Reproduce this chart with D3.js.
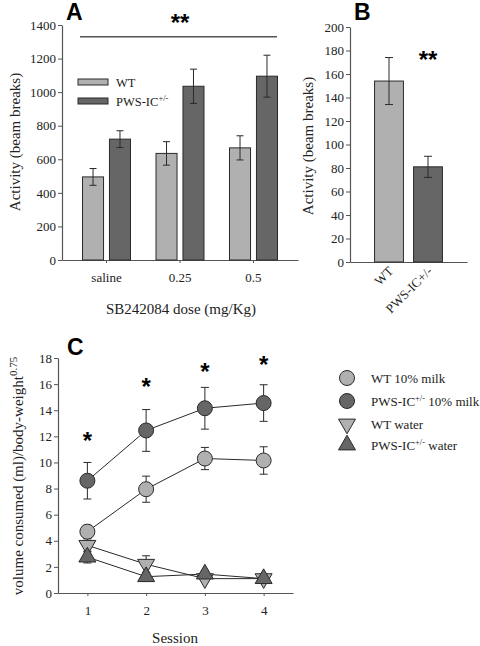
<!DOCTYPE html>
<html><head><meta charset="utf-8">
<script src="https://cdn.jsdelivr.net/npm/d3@7"></script>
<style>
body{margin:0;background:#fff;}
</style></head><body>
<svg id="c" width="480" height="646"></svg>
<script>
// Panel A data
const doseCats = ["saline","0.25","0.5"];
const groupsA = ["WT","PWS-IC"];
const wtA = [495, 635, 668];
const wtAErr = [50, 70, 72];
const pwsA = [720, 1035, 1095];
const pwsAErr = [50, 102, 125];
const ticksA = [0,200,400,600,800,1000,1200,1400];
// Panel B data
const catsB = ["WT","PWS-IC+/-"];
const valsB = [154, 81];
const errB = [20, 9];
const ticksB = [0,20,40,60,80,100,120,140,160,180,200];
// Panel C data
const sessions = [1,2,3,4];
const wtMilk = [4.7, 7.95, 10.3, 10.15];
const wtMilkErr = [0.5, 1.0, 0.85, 1.05];
const pwsMilk = [8.6, 12.45, 14.15, 14.55];
const pwsMilkErr = [1.4, 1.6, 1.6, 1.4];
const wtWater = [3.65, 2.2, 1.1, 1.1];
const wtWaterErr = [0.5, 0.65, 0.2, 0.2];
const pwsWater = [2.75, 1.25, 1.45, 1.1];
const pwsWaterErr = [0.45, 0.35, 0.2, 0.2];
const starsC = [11.8, 15.9, 17.1, 17.6];
const ticksC = [0,2,4,6,8,10,12,14,16,18];

const LIGHT="#b0b0b0", DARK="#666666", STROKE="#2a2a2a", AX="#555";
const SERIF = "Liberation Serif", SANS = "Liberation Sans";
const svg = d3.select("#c");

function styleAxis(g){
  g.attr("font-family",SERIF).attr("font-size",13);
  g.selectAll(".domain").attr("stroke",AX).attr("stroke-width",1.2);
  g.selectAll(".tick line").attr("stroke",AX);
  g.selectAll(".tick text").attr("fill","#222");
}
function label(g, cls){
  return g.append("text").attr("font-family", cls==="bold"?SANS:SERIF)
    .attr("font-weight", cls==="bold"?"bold":null).attr("fill", cls==="bold"?"#000":"#222");
}

// ---------- Panel A ----------
(function(){
  const x0 = d3.scaleBand().domain(doseCats).range([62,298]).paddingInner(0.347).paddingOuter(0.279);
  const x1 = d3.scaleBand().domain(groupsA).range([0,x0.bandwidth()]).paddingInner(0.22);
  const y = d3.scaleLinear().domain([0,1400]).range([260,25]);
  const g = svg.append("g");
  const ya = g.append("g").attr("transform","translate(62,0)").call(d3.axisLeft(y).tickValues(ticksA).tickFormat(d3.format("d")).tickSize(4).tickSizeOuter(0));
  styleAxis(ya); ya.selectAll(".tick text").attr("x",-6);
  const xa = g.append("g").attr("transform","translate(0,260)").call(d3.axisBottom(x0).tickSize(3).tickSizeOuter(0));
  styleAxis(xa); xa.selectAll(".tick text").attr("y",13);
  const series = [{k:"WT",v:wtA,e:wtAErr,c:LIGHT},{k:"PWS-IC",v:pwsA,e:pwsAErr,c:DARK}];
  series.forEach(s=>{
    doseCats.forEach((cat,i)=>{
      const bx = x0(cat)+x1(s.k);
      g.append("rect").attr("x",bx).attr("y",y(s.v[i])).attr("width",x1.bandwidth()).attr("height",y(0)-y(s.v[i]))
        .attr("fill",s.c).attr("stroke",STROKE).attr("stroke-width",1);
      const cx = bx + x1.bandwidth()/2;
      const t=y(s.v[i]+s.e[i]), b=y(s.v[i]-s.e[i]);
      g.append("line").attr("x1",cx).attr("x2",cx).attr("y1",t).attr("y2",b).attr("stroke",STROKE);
      [t,b].forEach(yy=>g.append("line").attr("x1",cx-3.5).attr("x2",cx+3.5).attr("y1",yy).attr("y2",yy).attr("stroke",STROKE));
    });
  });
  g.append("line").attr("x1",80).attr("x2",277).attr("y1",y(1330)).attr("y2",y(1330)).attr("stroke",AX).attr("stroke-width",1.3);
  label(g,"bold").attr("x",180).attr("y",31).attr("text-anchor","middle").attr("font-size",24).text("**");
  label(g,"bold").attr("x",66).attr("y",20).attr("font-size",23).text("A");
  [["WT",LIGHT,""],["PWS-IC",DARK,"+/-"]].forEach((d,i)=>{
    const yy = 79 + i*19;
    g.append("rect").attr("x",78).attr("y",yy).attr("width",30).attr("height",6).attr("fill",d[1]).attr("stroke",STROKE);
    const t = label(g).attr("x",116).attr("y",yy+7.5).attr("font-size",12.5).text(d[0]);
    if(d[2]) t.append("tspan").attr("dy",-5).attr("font-size",8.5).text(d[2]);
  });
  label(g).attr("transform","translate(20,142) rotate(-90)").attr("text-anchor","middle").attr("font-size",15).text("Activity (beam breaks)");
  label(g).attr("x",181).attr("y",314).attr("text-anchor","middle").attr("font-size",15).text("SB242084 dose (mg/Kg)");
})();

// ---------- Panel B ----------
(function(){
  const x = d3.scaleBand().domain(catsB).range([350,467]).paddingInner(0.26).paddingOuter(0.63);
  const y = d3.scaleLinear().domain([0,200]).range([262,27]);
  const g = svg.append("g");
  const ya = g.append("g").attr("transform","translate(350,0)").call(d3.axisLeft(y).tickValues(ticksB).tickSize(4).tickSizeOuter(0));
  styleAxis(ya); ya.selectAll(".tick text").attr("x",-6);
  const xa = g.append("g").attr("transform","translate(0,262)").call(d3.axisBottom(x).tickSize(0).tickSizeOuter(0));
  styleAxis(xa);
  xa.selectAll(".tick text").attr("text-anchor","end").attr("x",0).attr("y",0).attr("dy",0)
    .attr("transform","translate(5,10) rotate(-45)");
  catsB.forEach((c,i)=>{
    g.append("rect").attr("x",x(c)).attr("y",y(valsB[i])).attr("width",x.bandwidth()).attr("height",y(0)-y(valsB[i]))
      .attr("fill",i===0?LIGHT:DARK).attr("stroke",STROKE);
    const cx = x(c)+x.bandwidth()/2, t=y(valsB[i]+errB[i]), b=y(valsB[i]-errB[i]);
    g.append("line").attr("x1",cx).attr("x2",cx).attr("y1",t).attr("y2",b).attr("stroke",STROKE);
    [t,b].forEach(yy=>g.append("line").attr("x1",cx-4).attr("x2",cx+4).attr("y1",yy).attr("y2",yy).attr("stroke",STROKE));
  });
  label(g,"bold").attr("x",428).attr("y",68).attr("text-anchor","middle").attr("font-size",24).text("**");
  label(g,"bold").attr("x",354).attr("y",20).attr("font-size",23).text("B");
  label(g).attr("transform","translate(313,146) rotate(-90)").attr("text-anchor","middle").attr("font-size",15).text("Activity (beam breaks)");
})();

// ---------- Panel C ----------
(function(){
  const x = d3.scaleLinear().domain([0.5,4.5]).range([58,293]);
  const y = d3.scaleLinear().domain([0,18]).range([593,358]);
  const g = svg.append("g");
  const ya = g.append("g").attr("transform","translate(58,0)").call(d3.axisLeft(y).tickValues(ticksC).tickSize(4).tickSizeOuter(0));
  styleAxis(ya); ya.selectAll(".tick text").attr("x",-6);
  const xa = g.append("g").attr("transform","translate(0,593)").call(d3.axisBottom(x).tickValues(sessions).tickFormat(d3.format("d")).tickSize(3).tickSizeOuter(0));
  styleAxis(xa); xa.selectAll(".tick text").attr("y",13);
  const series = [
    {v:wtWater,e:wtWaterErr,c:LIGHT,s:"down"},
    {v:pwsWater,e:pwsWaterErr,c:DARK,s:"up"},
    {v:wtMilk,e:wtMilkErr,c:LIGHT,s:"circle"},
    {v:pwsMilk,e:pwsMilkErr,c:DARK,s:"circle"}
  ];
  const line = d3.line().x((d,i)=>x(sessions[i])).y(d=>y(d));
  series.forEach(s=>{
    g.append("path").datum(s.v).attr("d",line).attr("fill","none").attr("stroke",STROKE).attr("stroke-width",1);
    s.v.forEach((v,i)=>{
      const cx=x(sessions[i]), t=y(v+s.e[i]), b=y(v-s.e[i]);
      g.append("line").attr("x1",cx).attr("x2",cx).attr("y1",t).attr("y2",b).attr("stroke",STROKE);
      [t,b].forEach(yy=>g.append("line").attr("x1",cx-4).attr("x2",cx+4).attr("y1",yy).attr("y2",yy).attr("stroke",STROKE));
    });
  });
  const tri = d3.symbol().type(d3.symbolTriangle).size(125);
  function marker(sel, type, fill){
    if(type==="circle") return sel.append("circle").attr("r",7.5).attr("fill",fill).attr("stroke",STROKE);
    return sel.append("path").attr("d",tri()).attr("fill",fill).attr("stroke",STROKE)
      .attr("transform",type==="down"?"rotate(180)":null);
  }
  series.forEach(s=>{
    s.v.forEach((v,i)=>{
      const mg = g.append("g").attr("transform",`translate(${x(sessions[i])},${y(v)})`);
      marker(mg,s.s,s.c);
    });
  });
  starsC.forEach((v,i)=>label(g,"bold").attr("x",x(sessions[i])).attr("y",y(v)+10).attr("text-anchor","middle").attr("font-size",24).text("*"));
  label(g,"bold").attr("x",67).attr("y",355).attr("font-size",23).text("C");
  const yl = label(g).attr("transform","translate(23,476) rotate(-90)").attr("text-anchor","middle").attr("font-size",15);
  yl.append("tspan").text("volume consumed (ml)/body-weight");
  yl.append("tspan").attr("dy",-6).attr("font-size",11).text("0.75");
  label(g).attr("x",175).attr("y",643).attr("text-anchor","middle").attr("font-size",15).text("Session");
  const leg = [
    {t:"WT 10% milk",c:LIGHT,s:"circle",y:378},
    {t:"PWS-IC",sup:"+/-",rest:" 10% milk",c:DARK,s:"circle",y:401},
    {t:"WT water",c:LIGHT,s:"down",y:424},
    {t:"PWS-IC",sup:"+/-",rest:" water",c:DARK,s:"up",y:445}
  ];
  leg.forEach(d=>{
    const mg = g.append("g").attr("transform",`translate(347,${d.y})`);
    marker(mg,d.s,d.c);
    const t = label(g).attr("x",371).attr("y",d.y+5).attr("font-size",13).text(d.t);
    if(d.sup){
      t.append("tspan").attr("dy",-5).attr("font-size",8.5).text(d.sup);
      t.append("tspan").attr("dy",5).text(d.rest);
    }
  });
})();
</script>
</body></html>
